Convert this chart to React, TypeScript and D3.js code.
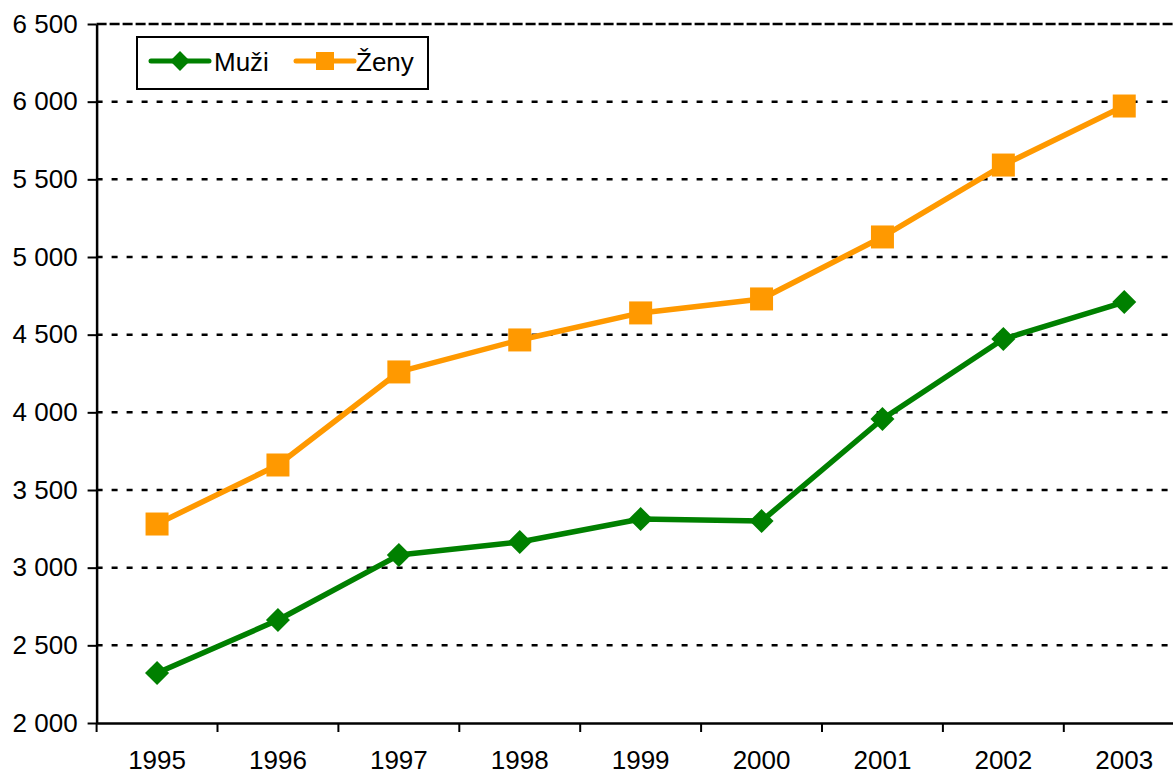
import React, { useEffect, useRef } from 'react';
import * as d3 from 'd3';

const years = ['1995', '1996', '1997', '1998', '1999', '2000', '2001', '2002', '2003'];
const muzi = [2322, 2663, 3081, 3165, 3313, 3300, 3957, 4472, 4710];
const zeny = [3281, 3661, 4260, 4466, 4640, 4730, 5129, 5592, 5972];
const yTicks = [2000, 2500, 3000, 3500, 4000, 4500, 5000, 5500, 6000, 6500];

const GREEN = '#008000';
const ORANGE = '#FF9900';
const FONT = 'Arial, "Liberation Sans", sans-serif';

export default function App() {
  const ref = useRef<SVGSVGElement>(null);

  useEffect(() => {
    const width = 1173;
    const height = 774;
    const left = 96.6;
    const top = 24;
    const bottom = 723;
    const band = 120.9;

    const svg = d3.select(ref.current);
    svg.selectAll('*').remove();

    const x = d3
      .scaleBand<string>()
      .domain(years)
      .range([left, left + band * years.length])
      .padding(0);
    const y = d3.scaleLinear().domain([2000, 6500]).range([bottom, top]);
    const cx = (i: number) => (x(years[i]) as number) + x.bandwidth() / 2;

    // gridlines
    svg
      .append('g')
      .selectAll('line')
      .data(yTicks.filter((t) => t > 2000))
      .join('line')
      .attr('x1', left)
      .attr('x2', width)
      .attr('y1', (d) => y(d))
      .attr('y2', (d) => y(d))
      .attr('stroke', '#000')
      .attr('stroke-width', 2.5)
      .attr('stroke-dasharray', (d) => (d === 6500 ? '10,3' : '6,9'));

    // y axis
    const yAxis = d3
      .axisLeft(y)
      .tickValues(yTicks)
      .tickSize(9)
      .tickSizeOuter(0)
      .tickFormat((d) => d3.format(',')(d as number).replace(',', ' '));
    svg
      .append('g')
      .attr('transform', `translate(${left},0)`)
      .call(yAxis)
      .call((g) => g.select('.domain').attr('stroke-width', 2.5))
      .call((g) => g.selectAll('.tick line').attr('stroke-width', 2))
      .call((g) =>
        g
          .selectAll('.tick text')
          .attr('x', -19)
          .attr('font-size', 26)
          .attr('font-family', FONT)
          .attr('fill', '#000')
      );

    // x axis
    const xAxis = d3.axisBottom(x).tickSize(0).tickSizeOuter(0);
    svg
      .append('g')
      .attr('transform', `translate(0,${bottom})`)
      .call(xAxis)
      .call((g) => g.select('.domain').attr('stroke-width', 2.5))
      .call((g) =>
        g
          .selectAll('.tick text')
          .attr('y', 28)
          .attr('dy', '0.71em')
          .attr('font-size', 26)
          .attr('font-family', FONT)
          .attr('fill', '#000')
      );
    svg
      .append('g')
      .selectAll('line')
      .data(d3.range(years.length + 1))
      .join('line')
      .attr('x1', (i) => left + i * x.step())
      .attr('x2', (i) => left + i * x.step())
      .attr('y1', bottom)
      .attr('y2', bottom + 9)
      .attr('stroke', '#000')
      .attr('stroke-width', 2);

    const line = d3
      .line<number>()
      .x((_, i) => cx(i))
      .y((d) => y(d));

    // Ženy
    svg
      .append('path')
      .attr('d', line(zeny))
      .attr('fill', 'none')
      .attr('stroke', ORANGE)
      .attr('stroke-width', 5.5)
      .attr('stroke-linejoin', 'round');
    svg
      .append('g')
      .selectAll('path')
      .data(zeny)
      .join('path')
      .attr('d', d3.symbol(d3.symbolSquare, 23 * 23)())
      .attr('transform', (d, i) => `translate(${cx(i)},${y(d)})`)
      .attr('fill', ORANGE);

    // Muži
    svg
      .append('path')
      .attr('d', line(muzi))
      .attr('fill', 'none')
      .attr('stroke', GREEN)
      .attr('stroke-width', 5.5)
      .attr('stroke-linejoin', 'round');
    svg
      .append('g')
      .selectAll('path')
      .data(muzi)
      .join('path')
      .attr('d', d3.symbol(d3.symbolSquare, 17 * 17)())
      .attr('transform', (d, i) => `translate(${cx(i)},${y(d)}) rotate(45)`)
      .attr('fill', GREEN);

    // legend
    const lg = svg.append('g');
    lg.append('rect')
      .attr('x', 137)
      .attr('y', 37)
      .attr('width', 291)
      .attr('height', 52)
      .attr('fill', '#fff')
      .attr('stroke', '#000')
      .attr('stroke-width', 2);
    const items = [
      { label: 'Muži', color: GREEN, x0: 151, text: 214, diamond: true },
      { label: 'Ženy', color: ORANGE, x0: 296, text: 356, diamond: false },
    ];
    items.forEach((it) => {
      lg.append('line')
        .attr('x1', it.x0)
        .attr('x2', it.x0 + 58)
        .attr('y1', 61)
        .attr('y2', 61)
        .attr('stroke', it.color)
        .attr('stroke-width', 5)
        .attr('stroke-linecap', 'round');
      lg.append('path')
        .attr('d', d3.symbol(d3.symbolSquare, it.diamond ? 14 * 14 : 18 * 18)())
        .attr('transform', `translate(${it.x0 + 29},61)${it.diamond ? ' rotate(45)' : ''}`)
        .attr('fill', it.color);
      lg.append('text')
        .attr('x', it.text)
        .attr('y', 71)
        .attr('font-size', 26)
        .attr('font-family', FONT)
        .attr('fill', '#000')
        .text(it.label);
    });

    svg.attr('width', width).attr('height', height);
  }, []);

  return (
    <svg
      ref={ref}
      width={1173}
      height={774}
      style={{ position: 'absolute', left: 0, top: 0, background: '#fff' }}
    />
  );
}
